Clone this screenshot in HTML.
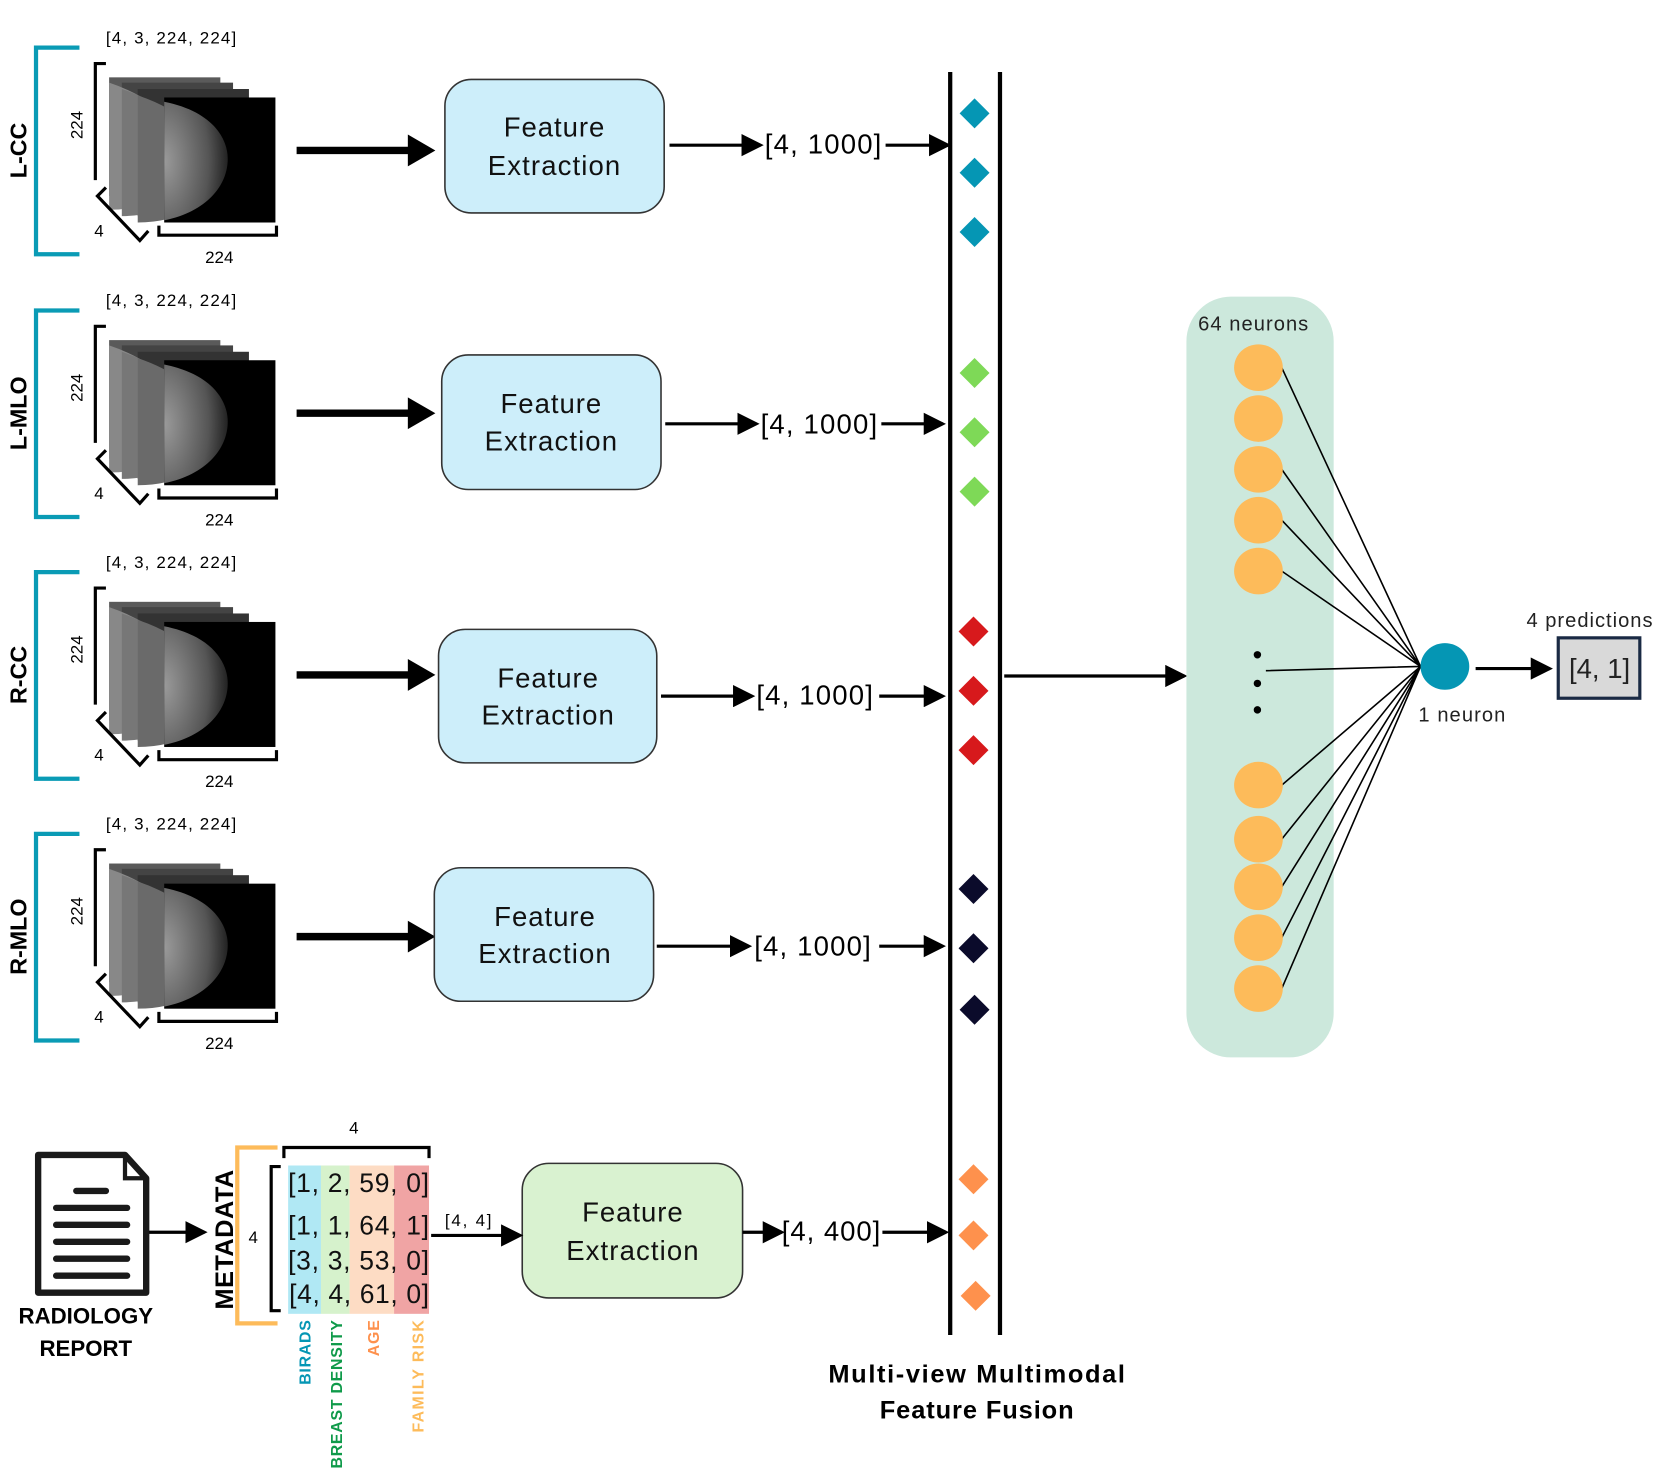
<!DOCTYPE html>
<html><head><meta charset="utf-8"><style>html,body{margin:0;padding:0;background:#fff}svg{display:block}</style></head>
<body>
<svg width="1661" height="1477" viewBox="0 0 1568 1394" preserveAspectRatio="none" xmlns="http://www.w3.org/2000/svg" font-family="'Liberation Sans', 'DejaVu Sans', sans-serif">
<defs>
<marker id="ah" markerWidth="7" markerHeight="7" refX="6" refY="3.5" orient="auto" markerUnits="strokeWidth"><path d="M0,0 L7,3.5 L0,7 z" fill="#000"/></marker>
<radialGradient id="br" cx="0" cy="0.5" r="1"><stop offset="0" stop-color="#9a9a9a"/><stop offset="0.7" stop-color="#555"/><stop offset="1" stop-color="#222"/></radialGradient>
<g id="stack">
  <rect x="103" y="73" width="105" height="112" fill="#5a5a5a"/>
  <rect x="115" y="78" width="105" height="115" fill="#444"/>
  <rect x="130" y="84" width="105" height="120" fill="#333"/>
  <path d="M103,78 q60,20 80,70 q-20,50 -80,50z" fill="#888"/>
  <path d="M115,84 q60,20 80,70 q-20,50 -80,50z" fill="#777"/>
  <path d="M130,90 q60,20 80,70 q-20,50 -80,50z" fill="#6a6a6a"/>
  <rect x="155" y="92" width="105" height="118" fill="#000"/>
  <path d="M155,96 C200,105 215,130 215,150 C215,175 195,200 155,208 z" fill="url(#br)"/>
  <path d="M90,170 V60 H100" fill="none" stroke="#000" stroke-width="3"/>
  <path d="M100,177 L92,185 L132,227 L140,218" fill="none" stroke="#000" stroke-width="3"/>
  <path d="M150,213 V222 H261 V213" fill="none" stroke="#000" stroke-width="3"/>
  <text x="100" y="41" font-size="16" textLength="123">[4, 3, 224, 224]</text>
  <text x="207" y="248" font-size="16" text-anchor="middle">224</text>
  <text x="89" y="223" font-size="16">4</text>
  <text transform="translate(78,118) rotate(-90)" font-size="16" text-anchor="middle">224</text>
  <path d="M32,45 H75 M34,45 V240 M32,240 H75" fill="none" stroke="#0a9bb5" stroke-width="4"/>
  <path d="M280,142 H388" stroke="#000" stroke-width="7"/>
  <path d="M385,127 L411,142 L385,157z" fill="#000"/>
</g>
<g id="diam"><rect x="-10" y="-10" width="20" height="20" transform="rotate(45)"/></g>
</defs>

<g><use href="#stack"/><text transform="translate(25,142) rotate(-90)" font-size="22" font-weight="bold" text-anchor="middle">L-CC</text></g>
<g transform="translate(0,248)"><use href="#stack"/><text transform="translate(25,142) rotate(-90)" font-size="22" font-weight="bold" text-anchor="middle">L-MLO</text></g>
<g transform="translate(0,495)"><use href="#stack"/><text transform="translate(25,142) rotate(-90)" font-size="22" font-weight="bold" text-anchor="middle">R-CC</text></g>
<g transform="translate(0,742)"><use href="#stack"/><text transform="translate(25,142) rotate(-90)" font-size="22" font-weight="bold" text-anchor="middle">R-MLO</text></g>

<g font-size="26" text-anchor="middle" fill="#111">
<rect x="420" y="75" width="207" height="126" rx="25" fill="#cdeefa" stroke="#333" stroke-width="1.5"/>
<text x="523" y="129" textLength="95">Feature</text><text x="523" y="165" textLength="125">Extraction</text>
<rect x="417" y="335" width="207" height="127" rx="25" fill="#cdeefa" stroke="#333" stroke-width="1.5"/>
<text x="520" y="390" textLength="95">Feature</text><text x="520" y="425" textLength="125">Extraction</text>
<rect x="414" y="594" width="206" height="126" rx="25" fill="#cdeefa" stroke="#333" stroke-width="1.5"/>
<text x="517" y="649" textLength="95">Feature</text><text x="517" y="684" textLength="125">Extraction</text>
<rect x="410" y="819" width="207" height="126" rx="25" fill="#cdeefa" stroke="#333" stroke-width="1.5"/>
<text x="514" y="874" textLength="95">Feature</text><text x="514" y="909" textLength="125">Extraction</text>
<rect x="493" y="1098" width="208" height="127" rx="25" fill="#d9f2d0" stroke="#333" stroke-width="1.5"/>
<text x="597" y="1153" textLength="95">Feature</text><text x="597" y="1189" textLength="125">Extraction</text>
</g>

<g stroke="#000" stroke-width="3" fill="none" marker-end="url(#ah)">
<path d="M632,137 H718"/><path d="M836,137 H895"/>
<path d="M628,400 H714"/><path d="M832,400 H890"/>
<path d="M624,657 H710"/><path d="M830,657 H890"/>
<path d="M620,893 H707"/><path d="M830,893 H890"/>
<path d="M701,1163 H738"/><path d="M833,1163 H893"/>
<path d="M407,1166 H491"/><path d="M140,1163 H193"/>
<path d="M948,638 H1118"/><path d="M1393,631 H1463"/>
</g>
<g font-size="26">
<text x="722" y="145" textLength="110">[4, 1000]</text>
<text x="718" y="409" textLength="110">[4, 1000]</text>
<text x="714" y="665" textLength="110">[4, 1000]</text>
<text x="712" y="902" textLength="110">[4, 1000]</text>
<text x="738" y="1171" textLength="93">[4, 400]</text>
</g>

<path d="M897,68 V1260 M944,68 V1260" stroke="#000" stroke-width="4"/>
<g fill="#0596b4"><use href="#diam" x="920" y="107"/><use href="#diam" x="920" y="163"/><use href="#diam" x="920" y="219"/></g>
<g fill="#7ed957"><use href="#diam" x="920" y="352"/><use href="#diam" x="920" y="408"/><use href="#diam" x="920" y="464"/></g>
<g fill="#d7191c"><use href="#diam" x="919" y="596"/><use href="#diam" x="919" y="652"/><use href="#diam" x="919" y="708"/></g>
<g fill="#0b0b2b"><use href="#diam" x="919" y="839"/><use href="#diam" x="919" y="895"/><use href="#diam" x="920" y="953"/></g>
<g fill="#fe914d"><use href="#diam" x="919" y="1113"/><use href="#diam" x="919" y="1166"/><use href="#diam" x="921" y="1223"/></g>
<g font-size="24" font-weight="bold" text-anchor="middle"><text x="922" y="1305" textLength="280">Multi-view Multimodal</text><text x="922" y="1339" textLength="183">Feature Fusion</text></g>

<rect x="1120" y="280" width="139" height="718" rx="42" fill="#cce8dc"/>
<text x="1131" y="312" font-size="19" fill="#222" textLength="104">64 neurons</text>
<g stroke="#000" stroke-width="1.5">
<path d="M1210,347 L1341,629 M1210,443 L1341,629 M1210,491 L1341,629 M1210,539 L1341,629 M1195,633 L1341,629 M1210,741 L1341,629 M1210,792 L1341,629 M1210,837 L1341,629 M1210,885 L1341,629 M1210,933 L1341,629"/>
</g>
<g fill="#fdbb5a">
<ellipse cx="1188" cy="347" rx="23" ry="22"/><ellipse cx="1188" cy="395" rx="23" ry="22"/><ellipse cx="1188" cy="443" rx="23" ry="22"/><ellipse cx="1188" cy="491" rx="23" ry="22"/><ellipse cx="1188" cy="539" rx="23" ry="22"/>
<ellipse cx="1188" cy="741" rx="23" ry="22"/><ellipse cx="1188" cy="792" rx="23" ry="22"/><ellipse cx="1188" cy="837" rx="23" ry="22"/><ellipse cx="1188" cy="885" rx="23" ry="22"/><ellipse cx="1188" cy="933" rx="23" ry="22"/>
</g>
<g fill="#000"><circle cx="1187" cy="618" r="3.5"/><circle cx="1187" cy="645" r="3.5"/><circle cx="1187" cy="670" r="3.5"/></g>
<ellipse cx="1364" cy="629" rx="23" ry="22" fill="#0596b4"/>
<text x="1339" y="681" font-size="19" fill="#222" textLength="82">1 neuron</text>
<text x="1441" y="592" font-size="19" fill="#222" textLength="119">4 predictions</text>
<rect x="1471" y="602" width="77" height="57" fill="#d9d9d9" stroke="#1a2a44" stroke-width="3"/>
<text x="1510" y="640" font-size="26" text-anchor="middle" fill="#222">[4, 1]</text>

<path d="M36,1090 H118 L138,1112 V1220 H36 Z" fill="#fff" stroke="#1a1a1a" stroke-width="6" stroke-linejoin="round"/>
<path d="M118,1090 V1112 H138" fill="none" stroke="#1a1a1a" stroke-width="4"/>
<g stroke="#1a1a1a" stroke-width="6" stroke-linecap="round"><path d="M72,1124 H100 M53,1140 H120 M53,1156 H120 M53,1172 H120 M53,1188 H120 M53,1204 H120"/></g>
<g font-size="21" font-weight="bold" text-anchor="middle"><text x="81" y="1249" textLength="127">RADIOLOGY</text><text x="81" y="1280">REPORT</text></g>
<text transform="translate(220,1170) rotate(-90)" font-size="24" font-weight="bold" text-anchor="middle" textLength="132">METADATA</text>
<path d="M262,1083 H224 V1249 H262" fill="none" stroke="#fdbb5a" stroke-width="4"/>
<text x="239" y="1173" font-size="16" text-anchor="middle">4</text>
<path d="M268,1093 V1083 H405 V1093" fill="none" stroke="#000" stroke-width="3"/>
<text x="334" y="1070" font-size="16" text-anchor="middle">4</text>
<path d="M265,1101 H256 V1237 H265" fill="none" stroke="#000" stroke-width="3"/>
<rect x="272" y="1100" width="31" height="140" fill="#b0e8f4"/>
<rect x="303" y="1100" width="27" height="140" fill="#d6f2cc"/>
<rect x="330" y="1100" width="42" height="140" fill="#fddcc4"/>
<rect x="372" y="1100" width="33" height="140" fill="#f0a4a4"/>
<g font-size="25" fill="#111">
<text x="272" y="1125" textLength="133">[1, 2, 59, 0]</text>
<text x="272" y="1165" textLength="133">[1, 1, 64, 1]</text>
<text x="272" y="1198" textLength="133">[3, 3, 53, 0]</text>
<text x="273" y="1230" textLength="132">[4, 4, 61, 0]</text>
</g>
<g font-size="15" font-weight="bold" text-anchor="end">
<text transform="translate(293,1246) rotate(-90)" fill="#0596b4" textLength="61">BIRADS</text>
<text transform="translate(323,1246) rotate(-90)" fill="#0f9a4a" textLength="140">BREAST DENSITY</text>
<text transform="translate(358,1246) rotate(-90)" fill="#fe914d" textLength="34">AGE</text>
<text transform="translate(400,1246) rotate(-90)" fill="#fdbb5a" textLength="106">FAMILY RISK</text>
</g>
<text x="420" y="1157" font-size="16" textLength="44">[4, 4]</text>
</svg>
</body></html>
